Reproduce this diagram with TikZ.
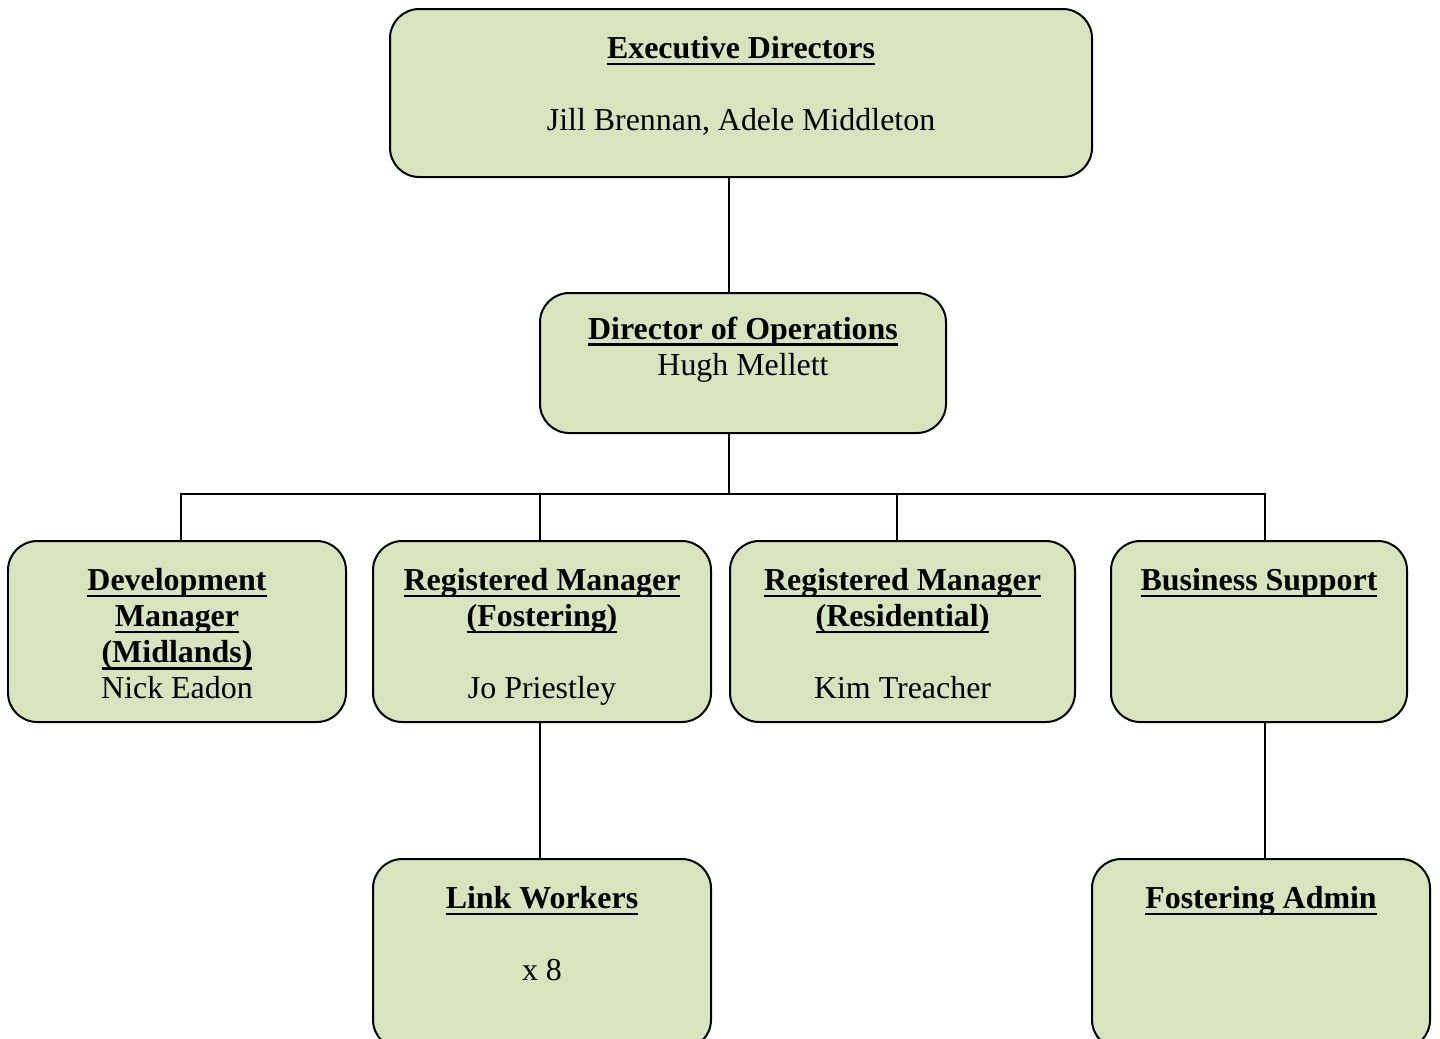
\documentclass[tikz,border=0pt]{standalone}
\usepackage{fontspec}
\setmainfont{Liberation Serif}
\usetikzlibrary{positioning}
\definecolor{boxgreen}{HTML}{D7E4BD}
\newcommand\pxu{0.3759pt}
\newsavebox\ttlbox
\newcommand\ttl[1]{\sbox\ttlbox{\textbf{#1}}\rlap{\rule[-2.5pt]{\wd\ttlbox}{1pt}}\usebox\ttlbox\strut}

\begin{document}
\begin{tikzpicture}[x=\pxu, y=-\pxu,
    box/.style={draw, line width=0.75pt, fill=boxgreen, rounded corners=11pt, inner sep=0pt},
    boxsize/.style 2 args={minimum width=#1*\pxu, minimum height=#2*\pxu},
    txt/.style={align=center, inner sep=0pt, font=\fontsize{12pt}{13.55pt}\selectfont},
    conn/.style={line width=0.6pt}]
    \useasboundingbox (0,0) rectangle (1440,1038);
    \clip (0,0) rectangle (1440,1038);

    \node[box, boxsize={702}{168}] (exec) at (741,93) {};
    \node[txt, below=9.4pt of exec.north] (exectxt) {\ttl{Executive Directors}\\[\baselineskip]Jill Brennan, Adele Middleton};

    \node[box, boxsize={406}{140}] (ops) at (743,363) {};
    \node[txt, below=8pt of ops.north] (opstxt) {\ttl{Director of Operations}\\Hugh Mellett};

    \node[box, boxsize={338}{181}] (dev) at (177,631.5) {};
    \node[txt, below=9.4pt of dev.north] (devtxt) {\ttl{Development}\\\ttl{Manager}\\\ttl{(Midlands)}\\Nick Eadon};

    \node[box, boxsize={338}{181}] (regf) at (542,631.5) {};
    \node[txt, below=9.4pt of regf.north] (regftxt) {\ttl{Registered Manager}\\\ttl{(Fostering)}\\[\baselineskip]Jo Priestley};

    \node[box, boxsize={345}{181}] (regr) at (902.5,631.5) {};
    \node[txt, below=9.4pt of regr.north] (regrtxt) {\ttl{Registered Manager}\\\ttl{(Residential)}\\[\baselineskip]Kim Treacher};

    \node[box, boxsize={296}{181}] (bus) at (1259,631.5) {};
    \node[txt, below=9.4pt of bus.north] (bustxt) {\ttl{Business Support}};

    \node[box, boxsize={338}{190}] (link) at (542,954) {};
    \node[txt, below=9.4pt of link.north] (linktxt) {\ttl{Link Workers}\\[\baselineskip]x 8};

    \node[box, boxsize={338}{190}] (admin) at (1261,954) {};
    \node[txt, below=9.4pt of admin.north] (admintxt) {\ttl{Fostering Admin}};

    \coordinate (fork) at (729,494);
    \draw[conn] (exec.south -| fork) -- (ops.north -| fork);
    \draw[conn] (ops.south -| fork) -- (fork);
    \draw[conn] ([xshift=1.5pt]dev.north) |- (fork) -| ([xshift=2.25pt]bus.north);
    \draw[conn] ([xshift=-0.75pt]regf.north) -- ([xshift=-0.75pt]regf.north |- fork);
    \draw[conn] ([xshift=-2pt]regr.north) -- ([xshift=-2pt]regr.north |- fork);
    \draw[conn] ([xshift=-0.75pt]regf.south) -- ([xshift=-0.75pt]regf.south |- link.north);
    \draw[conn] ([xshift=2.25pt]bus.south) -- ([xshift=2.25pt]bus.south |- admin.north);
\end{tikzpicture}
\end{document}
